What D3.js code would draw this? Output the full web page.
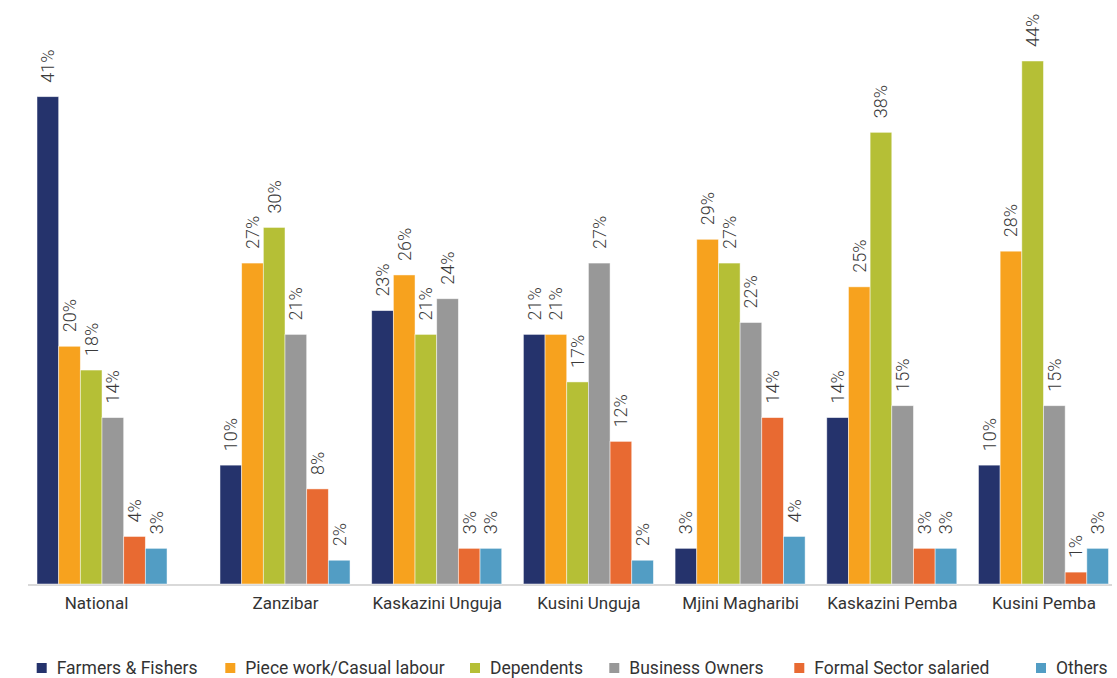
<!DOCTYPE html>
<html>
<head>
<meta charset="utf-8">
<script src="https://cdn.jsdelivr.net/npm/d3@7"></script>
<style>
  html, body { margin: 0; padding: 0; background: #fff; }
  svg { display: block; font-family: Roboto, "Liberation Sans", sans-serif; }
</style>
</head>
<body>
<svg id="chart" width="1117" height="678"></svg>
<script>
// Main source of livelihood by region (percent of households)
const categories = ["National", "Zanzibar", "Kaskazini Unguja", "Kusini Unguja", "Mjini Magharibi", "Kaskazini Pemba", "Kusini Pemba"];
const seriesNames = ["Farmers & Fishers", "Piece work/Casual labour", "Dependents", "Business Owners", "Formal Sector salaried", "Others"];
const farmersFishers   = [41, 10, 23, 21, 3, 14, 10];
const pieceWork        = [20, 27, 26, 21, 29, 25, 28];
const dependents       = [18, 30, 21, 17, 27, 38, 44];
const businessOwners   = [14, 21, 24, 27, 22, 15, 15];
const formalSalaried   = [4, 8, 3, 12, 14, 3, 1];
const others           = [3, 2, 3, 2, 4, 3, 3];
const colors = ["#25336C", "#F7A21E", "#B5BF36", "#989898", "#E86A32", "#529DC4"];

const seriesValues = [farmersFishers, pieceWork, dependents, businessOwners, formalSalaried, others];
const rows = categories.map((c, i) => ({
  category: c,
  values: seriesNames.map((s, j) => ({ series: s, value: seriesValues[j][i] }))
}));

const svg = d3.select("#chart");
const baseY = 584;

const y = d3.scaleLinear().domain([0, 44]).range([baseY, 61]);

const x0 = d3.scaleBand()
  .domain(categories)
  .range([68.3, 1108.5])
  .paddingInner(1 / 7)
  .paddingOuter(0);

// the national group sits a little further apart from the regional groups
const nationalShift = -31.3;
const groupX = c => x0(c) + (c === "National" ? nationalShift : 0);

const x1 = d3.scaleBand()
  .domain(seriesNames)
  .range([0, x0.bandwidth()])
  .padding(0);

const color = d3.scaleOrdinal().domain(seriesNames).range(colors);

// baseline
svg.append("line")
  .attr("x1", 28).attr("x2", 1112)
  .attr("y1", baseY + 1).attr("y2", baseY + 1)
  .attr("stroke", "#d9d9d9").attr("stroke-width", 2);

const groups = svg.append("g").selectAll("g")
  .data(rows)
  .join("g")
  .attr("transform", d => `translate(${groupX(d.category)},0)`);

groups.selectAll("rect")
  .data(d => d.values)
  .join("rect")
  .attr("x", d => x1(d.series))
  .attr("y", d => y(d.value))
  .attr("width", x1.bandwidth())
  .attr("height", d => y(0) - y(d.value))
  .attr("fill", d => color(d.series))
  .attr("stroke", "#ffffff")
  .attr("stroke-opacity", 0.6)
  .attr("stroke-width", 0.8);

// rotated value labels above each bar
groups.selectAll("text.val")
  .data(d => d.values)
  .join("text")
  .attr("class", "val")
  .attr("transform", d => `translate(${x1(d.series) + x1.bandwidth() / 2},${y(d.value) - 14}) rotate(-90)`)
  .attr("dy", "0.36em")
  .attr("text-anchor", "start")
  .attr("fill", "#3a3a3a")
  .style("font-size", "18px")
  .style("font-weight", 300)
  .text(d => d.value + "%");

// category axis labels
const xAxis = d3.axisBottom(d3.scaleOrdinal().domain(categories).range(categories.map(c => groupX(c) + x0.bandwidth() / 2)))
  .tickSize(0).tickPadding(0);
const axisG = svg.append("g")
  .attr("transform", `translate(0,${baseY + 13})`)
  .call(xAxis);
axisG.select(".domain").remove();
axisG.selectAll("text")
  .attr("fill", "#333")
  .style("font-size", "17px")
  .style("font-family", "Roboto, 'Liberation Sans', sans-serif");
axisG.selectAll(".tick").filter(d => d === "National").select("text").attr("dx", -6);

// legend
const legendX = [36.7, 225.3, 470, 609.3, 794.3, 1036];
const legend = svg.append("g").selectAll("g")
  .data(seriesNames)
  .join("g")
  .attr("transform", (d, i) => `translate(${legendX[i]},663)`);
legend.append("rect")
  .attr("width", 10).attr("height", 10)
  .attr("fill", d => color(d));
legend.append("text")
  .attr("x", 20).attr("y", 5)
  .attr("dy", "0.35em")
  .attr("fill", "#333")
  .style("font-size", "17.5px")
  .text(d => d);
</script>
</body>
</html>
